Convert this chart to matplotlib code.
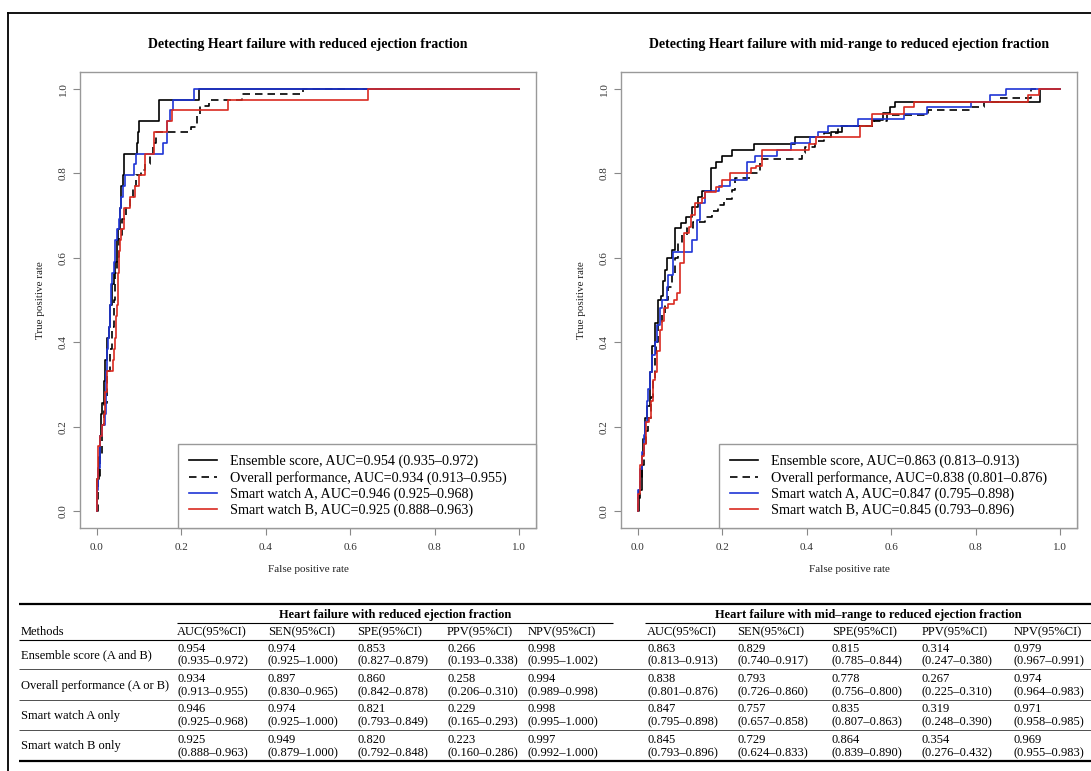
import numpy as np
import matplotlib.pyplot as plt
from matplotlib.lines import Line2D

plt.rcParams['font.family'] = 'Liberation Serif'

W, H = 1091, 771

# ---- ROC curves, HFrEF panel (corner points: fpr, tpr) ----
hfref_ens_fpr = [0, 0, 0.005, 0.008, 0.010, 0.013, 0.016, 0.020, 0.024, 0.028, 0.031, 0.035, 0.040,
                 0.043, 0.047, 0.050, 0.054, 0.058, 0.062, 0.065, 0.094, 0.097, 0.100, 0.147, 0.242, 1.0]
hfref_ens_tpr = [0, 0.077, 0.128, 0.179, 0.231, 0.256, 0.308, 0.359, 0.410, 0.436, 0.487, 0.538, 0.564,
                 0.590, 0.641, 0.667, 0.718, 0.769, 0.795, 0.846, 0.872, 0.897, 0.923, 0.974, 1.0, 1.0]
hfref_all_fpr = [0, 0.003, 0.008, 0.012, 0.018, 0.024, 0.030, 0.035, 0.040, 0.044, 0.048, 0.053, 0.060,
                 0.070, 0.078, 0.085, 0.092, 0.105, 0.114, 0.125, 0.133, 0.141, 0.223, 0.237, 0.245,
                 0.265, 0.344, 0.488, 1.0]
hfref_all_tpr = [0, 0.077, 0.128, 0.205, 0.256, 0.333, 0.385, 0.436, 0.500, 0.564, 0.603, 0.654, 0.692,
                 0.718, 0.744, 0.769, 0.795, 0.808, 0.821, 0.846, 0.872, 0.897, 0.910, 0.936, 0.959,
                 0.974, 0.987, 1.0, 1.0]
hfref_a_fpr = [0, 0, 0.003, 0.007, 0.012, 0.020, 0.021, 0.023, 0.026, 0.028, 0.031, 0.033, 0.036, 0.040,
               0.044, 0.048, 0.052, 0.054, 0.058, 0.062, 0.066, 0.088, 0.0915, 0.157, 0.165, 0.173,
               0.181, 0.230, 1.0]
hfref_a_tpr = [0, 0.05, 0.103, 0.179, 0.205, 0.231, 0.333, 0.385, 0.410, 0.436, 0.487, 0.538, 0.564,
               0.590, 0.641, 0.667, 0.692, 0.718, 0.744, 0.769, 0.795, 0.821, 0.846, 0.872, 0.923,
               0.949, 0.974, 1.0, 1.0]
hfref_b_fpr = [0, 0, 0.003, 0.007, 0.012, 0.016, 0.020, 0.025, 0.039, 0.041, 0.043, 0.045, 0.047, 0.049,
               0.051, 0.053, 0.055, 0.058, 0.064, 0.078, 0.090, 0.099, 0.115, 0.136, 0.165, 0.178,
               0.310, 0.643, 1.0]
hfref_b_tpr = [0, 0.077, 0.154, 0.179, 0.205, 0.231, 0.282, 0.333, 0.359, 0.385, 0.410, 0.462, 0.487,
               0.538, 0.564, 0.615, 0.641, 0.667, 0.718, 0.744, 0.769, 0.795, 0.846, 0.897, 0.923,
               0.949, 0.974, 1.0, 1.0]

# ---- ROC curves, HFmrEF panel ----
hfmr_ens_fpr = [0, 0.002, 0.009, 0.012, 0.017, 0.022, 0.029, 0.034, 0.040, 0.048, 0.054, 0.060, 0.064,
                0.069, 0.080, 0.088, 0.101, 0.113, 0.127, 0.142, 0.151, 0.173, 0.184, 0.200, 0.224,
                0.274, 0.371, 0.458, 0.484, 0.555, 0.580, 0.598, 0.608, 0.952, 1.0]
hfmr_ens_tpr = [0, 0.05, 0.13, 0.17, 0.22, 0.25, 0.33, 0.39, 0.445, 0.50, 0.51, 0.545, 0.571, 0.599,
                0.618, 0.670, 0.683, 0.697, 0.721, 0.743, 0.757, 0.812, 0.828, 0.842, 0.855, 0.869,
                0.886, 0.899, 0.912, 0.927, 0.942, 0.956, 0.970, 1.0, 1.0]
hfmr_all_fpr = [0, 0, 0.005, 0.009, 0.015, 0.020, 0.024, 0.030, 0.036, 0.040, 0.044, 0.048, 0.056,
                0.064, 0.072, 0.080, 0.088, 0.095, 0.105, 0.116, 0.130, 0.159, 0.175, 0.190, 0.205,
                0.222, 0.230, 0.265, 0.290, 0.388, 0.395, 0.420, 0.440, 0.475, 0.560, 0.590, 0.686,
                0.790, 0.820, 0.855, 0.930, 1.0]
hfmr_all_tpr = [0, 0.03, 0.08, 0.11, 0.15, 0.19, 0.22, 0.27, 0.31, 0.365, 0.40, 0.445, 0.47, 0.50, 0.53,
                0.565, 0.60, 0.635, 0.655, 0.67, 0.685, 0.697, 0.71, 0.725, 0.74, 0.76, 0.79, 0.80,
                0.834, 0.848, 0.862, 0.876, 0.895, 0.911, 0.925, 0.937, 0.950, 0.958, 0.970, 0.978,
                1.0, 1.0]
hfmr_a_fpr = [0, 0, 0.004, 0.009, 0.014, 0.018, 0.021, 0.025, 0.029, 0.033, 0.040, 0.046, 0.052, 0.058,
              0.068, 0.072, 0.082, 0.127, 0.139, 0.146, 0.159, 0.192, 0.217, 0.259, 0.277, 0.330,
              0.363, 0.407, 0.426, 0.451, 0.521, 0.630, 0.684, 0.788, 0.834, 0.871, 1.0]
hfmr_a_tpr = [0, 0.05, 0.10, 0.14, 0.18, 0.21, 0.26, 0.29, 0.33, 0.37, 0.40, 0.44, 0.48, 0.50, 0.53,
              0.56, 0.614, 0.642, 0.69, 0.729, 0.757, 0.770, 0.784, 0.828, 0.842, 0.855, 0.871, 0.886,
              0.899, 0.912, 0.928, 0.941, 0.956, 0.970, 0.986, 1.0, 1.0]
hfmr_b_fpr = [0, 0, 0.004, 0.009, 0.014, 0.020, 0.027, 0.030, 0.035, 0.040, 0.046, 0.052, 0.058, 0.062,
              0.072, 0.086, 0.092, 0.099, 0.109, 0.120, 0.126, 0.136, 0.151, 0.159, 0.184, 0.200,
              0.217, 0.267, 0.280, 0.294, 0.405, 0.421, 0.526, 0.555, 0.630, 0.655, 0.925, 0.950, 1.0]
hfmr_b_tpr = [0, 0.04, 0.11, 0.13, 0.16, 0.21, 0.22, 0.26, 0.31, 0.33, 0.38, 0.43, 0.45, 0.48, 0.49,
              0.50, 0.516, 0.587, 0.658, 0.674, 0.701, 0.729, 0.741, 0.755, 0.768, 0.784, 0.80, 0.812,
              0.818, 0.855, 0.870, 0.886, 0.912, 0.941, 0.956, 0.970, 0.986, 1.0, 1.0]

hfref_labels = ['Ensemble score, AUC=0.954 (0.935–0.972)',
                'Overall performance, AUC=0.934 (0.913–0.955)',
                'Smart watch A, AUC=0.946 (0.925–0.968)',
                'Smart watch B, AUC=0.925 (0.888–0.963)']
hfmr_labels = ['Ensemble score, AUC=0.863 (0.813–0.913)',
               'Overall performance, AUC=0.838 (0.801–0.876)',
               'Smart watch A, AUC=0.847 (0.795–0.898)',
               'Smart watch B, AUC=0.845 (0.793–0.896)']
tick_vals = [0.0, 0.2, 0.4, 0.6, 0.8, 1.0]
tick_labels = ['0.0', '0.2', '0.4', '0.6', '0.8', '1.0']

# ---- table ----
methods = ['Ensemble score (A and B)', 'Overall performance (A or B)',
           'Smart watch A only', 'Smart watch B only']
col_heads = ['AUC(95%CI)', 'SEN(95%CI)', 'SPE(95%CI)', 'PPV(95%CI)', 'NPV(95%CI)']
group_heads = ['Heart failure with reduced ejection fraction',
               'Heart failure with mid–range to reduced ejection fraction']
hfref_est = [['0.954', '0.974', '0.853', '0.266', '0.998'],
             ['0.934', '0.897', '0.860', '0.258', '0.994'],
             ['0.946', '0.974', '0.821', '0.229', '0.998'],
             ['0.925', '0.949', '0.820', '0.223', '0.997']]
hfref_ci = [['0.935–0.972', '0.925–1.000', '0.827–0.879', '0.193–0.338', '0.995–1.002'],
            ['0.913–0.955', '0.830–0.965', '0.842–0.878', '0.206–0.310', '0.989–0.998'],
            ['0.925–0.968', '0.925–1.000', '0.793–0.849', '0.165–0.293', '0.995–1.000'],
            ['0.888–0.963', '0.879–1.000', '0.792–0.848', '0.160–0.286', '0.992–1.000']]
hfmr_est = [['0.863', '0.829', '0.815', '0.314', '0.979'],
            ['0.838', '0.793', '0.778', '0.267', '0.974'],
            ['0.847', '0.757', '0.835', '0.319', '0.971'],
            ['0.845', '0.729', '0.864', '0.354', '0.969']]
hfmr_ci = [['0.813–0.913', '0.740–0.917', '0.785–0.844', '0.247–0.380', '0.967–0.991'],
           ['0.801–0.876', '0.726–0.860', '0.756–0.800', '0.225–0.310', '0.964–0.983'],
           ['0.795–0.898', '0.657–0.858', '0.807–0.863', '0.248–0.390', '0.958–0.985'],
           ['0.793–0.896', '0.624–0.833', '0.839–0.890', '0.276–0.432', '0.955–0.983']]

styles = [dict(color='black', ls='-'),
          dict(color='black', ls=(0, (4.5, 3))),
          dict(color='#1f35d6', ls='-'),
          dict(color='#d92a20', ls='-')]

fig = plt.figure(figsize=(W / 100, H / 100), dpi=100)


def fx(x):
    return x / W


def fy(y):
    return 1 - y / H


def roc_panel(left_px, title, curves, labels):
    ax = fig.add_axes([fx(left_px), fy(528), 456 / W, 456 / H])
    for (fpr, tpr), lab, st in zip(curves, labels, styles):
        ax.plot(fpr, tpr, drawstyle='steps-post', lw=1.2, label=lab, **st)
    ax.set_xlim(-0.04, 1.04)
    ax.set_ylim(-0.04, 1.04)
    ax.set_xticks(tick_vals)
    ax.set_xticklabels(tick_labels)
    ax.set_yticks(tick_vals)
    ax.set_yticklabels(tick_labels, rotation=90, va='center')
    ax.tick_params(direction='out', length=5, width=0.8, color='#888888',
                   labelcolor='#333333', labelsize=8)
    ax.tick_params(axis='x', pad=6)
    ax.tick_params(axis='y', pad=4)
    for s in ax.spines.values():
        s.set_color('#999999')
        s.set_linewidth(1.0)
    ax.set_xlabel('False positive rate', fontsize=8, color='#222222', labelpad=9)
    ax.set_ylabel('True positive rate', fontsize=8, color='#222222', labelpad=10)
    ax.set_title(title, fontsize=10, fontweight='bold', pad=17)
    leg = ax.legend(loc='lower left', bbox_to_anchor=(0.215, 0, 0.785, 0.2), mode='expand',
                    borderaxespad=0, fancybox=False, fontsize=10.2, handlelength=2.0,
                    handletextpad=0.9, borderpad=0.75, labelspacing=0.2, framealpha=1)
    leg.get_frame().set_edgecolor('#999999')
    leg.get_frame().set_linewidth(1.0)
    return ax


roc_panel(80, 'Detecting Heart failure with reduced ejection fraction',
          [(hfref_ens_fpr, hfref_ens_tpr), (hfref_all_fpr, hfref_all_tpr),
           (hfref_a_fpr, hfref_a_tpr), (hfref_b_fpr, hfref_b_tpr)], hfref_labels)
roc_panel(621, 'Detecting Heart failure with mid-range to reduced ejection fraction',
          [(hfmr_ens_fpr, hfmr_ens_tpr), (hfmr_all_fpr, hfmr_all_tpr),
           (hfmr_a_fpr, hfmr_a_tpr), (hfmr_b_fpr, hfmr_b_tpr)], hfmr_labels)

# outer frame (left and top edges)
fig.add_artist(Line2D([fx(8), fx(8)], [fy(13), fy(H)], transform=fig.transFigure, color='black', lw=1.3))
fig.add_artist(Line2D([fx(8), fx(W)], [fy(13), fy(13)], transform=fig.transFigure, color='black', lw=1.3))


def hline(y, x0, x1, lw, color='black'):
    fig.add_artist(Line2D([fx(x0), fx(x1)], [fy(y), fy(y)], transform=fig.transFigure,
                          color=color, lw=lw, solid_capstyle='butt'))


def txt(x, y, s, **kw):
    fig.text(fx(x), fy(y), s, ha='left', va='center', fontsize=9, **kw)


left_cols = [177, 268, 357, 447, 528]
right_cols = [647, 737, 832, 922, 1014]
t_x0 = 19
hline(604, t_x0, W, 1.6)
fig.text(fx(395), fy(615), group_heads[0], ha='center', va='center', fontsize=9, fontweight='bold')
fig.text(fx(868), fy(615), group_heads[1], ha='center', va='center', fontsize=9, fontweight='bold')
hline(623, 177, 613, 0.8)
hline(623, 645, W, 0.8)
txt(21, 632, 'Methods')
for c, h in enumerate(col_heads):
    txt(left_cols[c], 632, h)
    txt(right_cols[c], 632, h)
hline(640, t_x0, W, 0.8)

pitch = 30.5
for i, m in enumerate(methods):
    y1 = 648.5 + pitch * i
    y2 = y1 + 13
    txt(21, (y1 + y2) / 2, m)
    for c in range(5):
        txt(left_cols[c], y1, hfref_est[i][c])
        txt(left_cols[c], y2, '(' + hfref_ci[i][c] + ')')
        txt(right_cols[c], y1, hfmr_est[i][c])
        txt(right_cols[c], y2, '(' + hfmr_ci[i][c] + ')')
    if i < len(methods) - 1:
        hline(y2 + 7.5, t_x0, W, 0.6, '#333333')
    else:
        hline(y2 + 7.5, t_x0, W, 1.6)

fig.savefig('out.png', dpi=100)
